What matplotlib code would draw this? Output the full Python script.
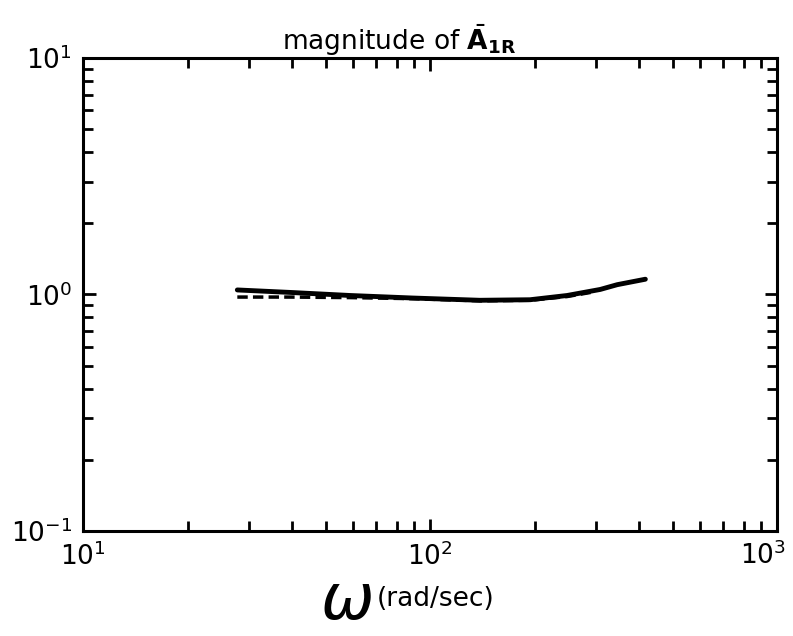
import numpy as np
import matplotlib.pyplot as plt
from matplotlib.ticker import LogLocator, NullFormatter

# Data
omega_solid = [27.8, 39.5, 58.8, 89, 139, 194, 248, 309, 346, 417]
mag_solid = [1.045, 1.02, 0.99, 0.966, 0.945, 0.95, 0.99, 1.05, 1.10, 1.16]
omega_dash = [27.8, 39.5, 58.8, 89, 139, 194, 248, 290]
mag_dash = [0.975, 0.975, 0.97, 0.96, 0.94, 0.945, 0.98, 1.02]

xticks = [10, 100, 1000]
xticklabels = [r'$10^1$', r'$10^2$', '']

plt.rcParams['font.family'] = ['DejaVu Sans']

fig = plt.figure(figsize=(7.93, 6.36), dpi=100)
ax = fig.add_axes([0.105, 0.165, 0.875, 0.744])

ax.plot(omega_solid, mag_solid, color='black', lw=3.5, solid_capstyle='round')
ax.plot(omega_dash, mag_dash, color='black', lw=2.5, ls=(0, (3, 1.5)))

ax.set_xscale('log')
ax.set_yscale('log')
ax.set_xlim(10, 1000)
ax.set_ylim(0.1, 10)

for s in ax.spines.values():
    s.set_linewidth(2.2)

ax.set_xticks(xticks, xticklabels)
ax.xaxis.set_minor_locator(LogLocator(base=10, subs=np.arange(2, 10)))
ax.yaxis.set_minor_locator(LogLocator(base=10, subs=np.arange(2, 10)))
ax.xaxis.set_minor_formatter(NullFormatter())
ax.yaxis.set_minor_formatter(NullFormatter())
ax.tick_params(which='both', direction='in', top=True, right=True, width=2)
ax.tick_params(which='major', length=9, labelsize=19, pad=8)
ax.tick_params(which='minor', length=7)

# last x label pulled inward so it stays inside the figure
fig.text(0.962, 0.148, r'$10^3$', fontsize=19, ha='center', va='top')

ax.set_title(r'magnitude of $\bar{\mathbf{A}}_{\mathbf{1R}}$', fontsize=19, pad=2, x=0.455)

fig.text(0.47, 0.055, r'$\omega$', fontsize=46, ha='right', va='center')
fig.text(0.475, 0.058, '(rad/sec)', fontsize=19, ha='left', va='center')

fig.savefig('out.png', dpi=100)
